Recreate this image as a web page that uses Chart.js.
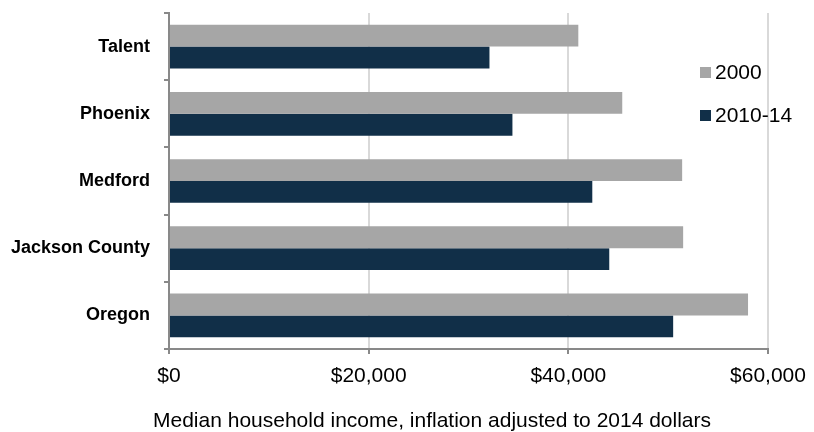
<!DOCTYPE html>
<html>
<head>
<meta charset="utf-8">
<script src="https://cdn.jsdelivr.net/npm/chart.js@4"></script>
<style>
  html, body { margin: 0; padding: 0; background: #fff; overflow: hidden; }
  #wrap { position: relative; width: 814px; height: 432px; }
  #legend { position: absolute; left: 700px; top: 56px; font: 21px 'Liberation Sans', Arial, sans-serif; color: #000; }
  .leg-item { display: flex; align-items: center; height: 32px; margin-bottom: 11px; }
  .leg-box { width: 11px; height: 11px; margin-right: 4px; }
  #xtitle { position: absolute; left: 153px; top: 406px; font: 21px 'Liberation Sans', Arial, sans-serif; color: #000; white-space: nowrap; line-height: 28px; }
</style>
</head>
<body>
<div id="wrap">
  <canvas id="incomeChart" width="814" height="432"></canvas>
  <div id="legend"></div>
  <div id="xtitle">Median household income, inflation adjusted to 2014 dollars</div>
</div>
<script>
// values
const places = ['Talent', 'Phoenix', 'Medford', 'Jackson County', 'Oregon'];
const income2000 = [41000, 45400, 51400, 51500, 58000];
const income2010_14 = [32100, 34400, 42400, 44100, 50500];
const seriesNames = ['2000', '2010-14'];
const seriesColors = ['#a6a6a6', '#112f48'];
const xTicks = [0, 20000, 40000, 60000];

const axisGray = '#898989';

const chart = new Chart(document.getElementById('incomeChart'), {
  type: 'bar',
  data: {
    labels: places,
    datasets: [
      { label: seriesNames[0], data: income2000, backgroundColor: seriesColors[0], categoryPercentage: 0.65, barPercentage: 1 },
      { label: seriesNames[1], data: income2010_14, backgroundColor: seriesColors[1], categoryPercentage: 0.65, barPercentage: 1 }
    ]
  },
  options: {
    responsive: false, animation: false, indexAxis: 'y',
    layout: { padding: { top: 13, right: 46, left: 0, bottom: 0 } },
    plugins: { legend: { display: false }, tooltip: { enabled: false } },
    scales: {
      x: {
        min: 0, max: 60000,
        afterBuildTicks: s => { s.ticks = xTicks.map(v => ({ value: v })); },
        // fixed plot box, don't let label overhang move it
        afterFit: s => { s.height = 83; s.paddingLeft = 0; s.paddingRight = 0; },
        grid: { color: '#d9d9d9', lineWidth: 2, tickColor: axisGray, tickLength: 5 },
        border: { color: axisGray, width: 2 },
        ticks: {
          color: '#000', padding: 10,
          font: { family: "'Liberation Sans', Arial, sans-serif", size: 21 },
          callback: v => '$' + v.toLocaleString('en-US')
        }
      },
      y: {
        afterFit: s => { s.width = 169; s.paddingTop = 0; s.paddingBottom = 0; },
        grid: { drawOnChartArea: false, color: axisGray, tickLength: 5, lineWidth: 2, offset: true },
        border: { color: axisGray, width: 2 },
        ticks: {
          color: '#000', padding: 14,
          font: { family: "'Liberation Sans', Arial, sans-serif", size: 18, weight: 'bold' }
        }
      }
    }
  }
});

// legend sits inside the plot, like the original
document.getElementById('legend').innerHTML = chart.data.datasets.map(d =>
  `<div class="leg-item"><div class="leg-box" style="background:${d.backgroundColor}"></div>${d.label}</div>`
).join('');
</script>
</body>
</html>
